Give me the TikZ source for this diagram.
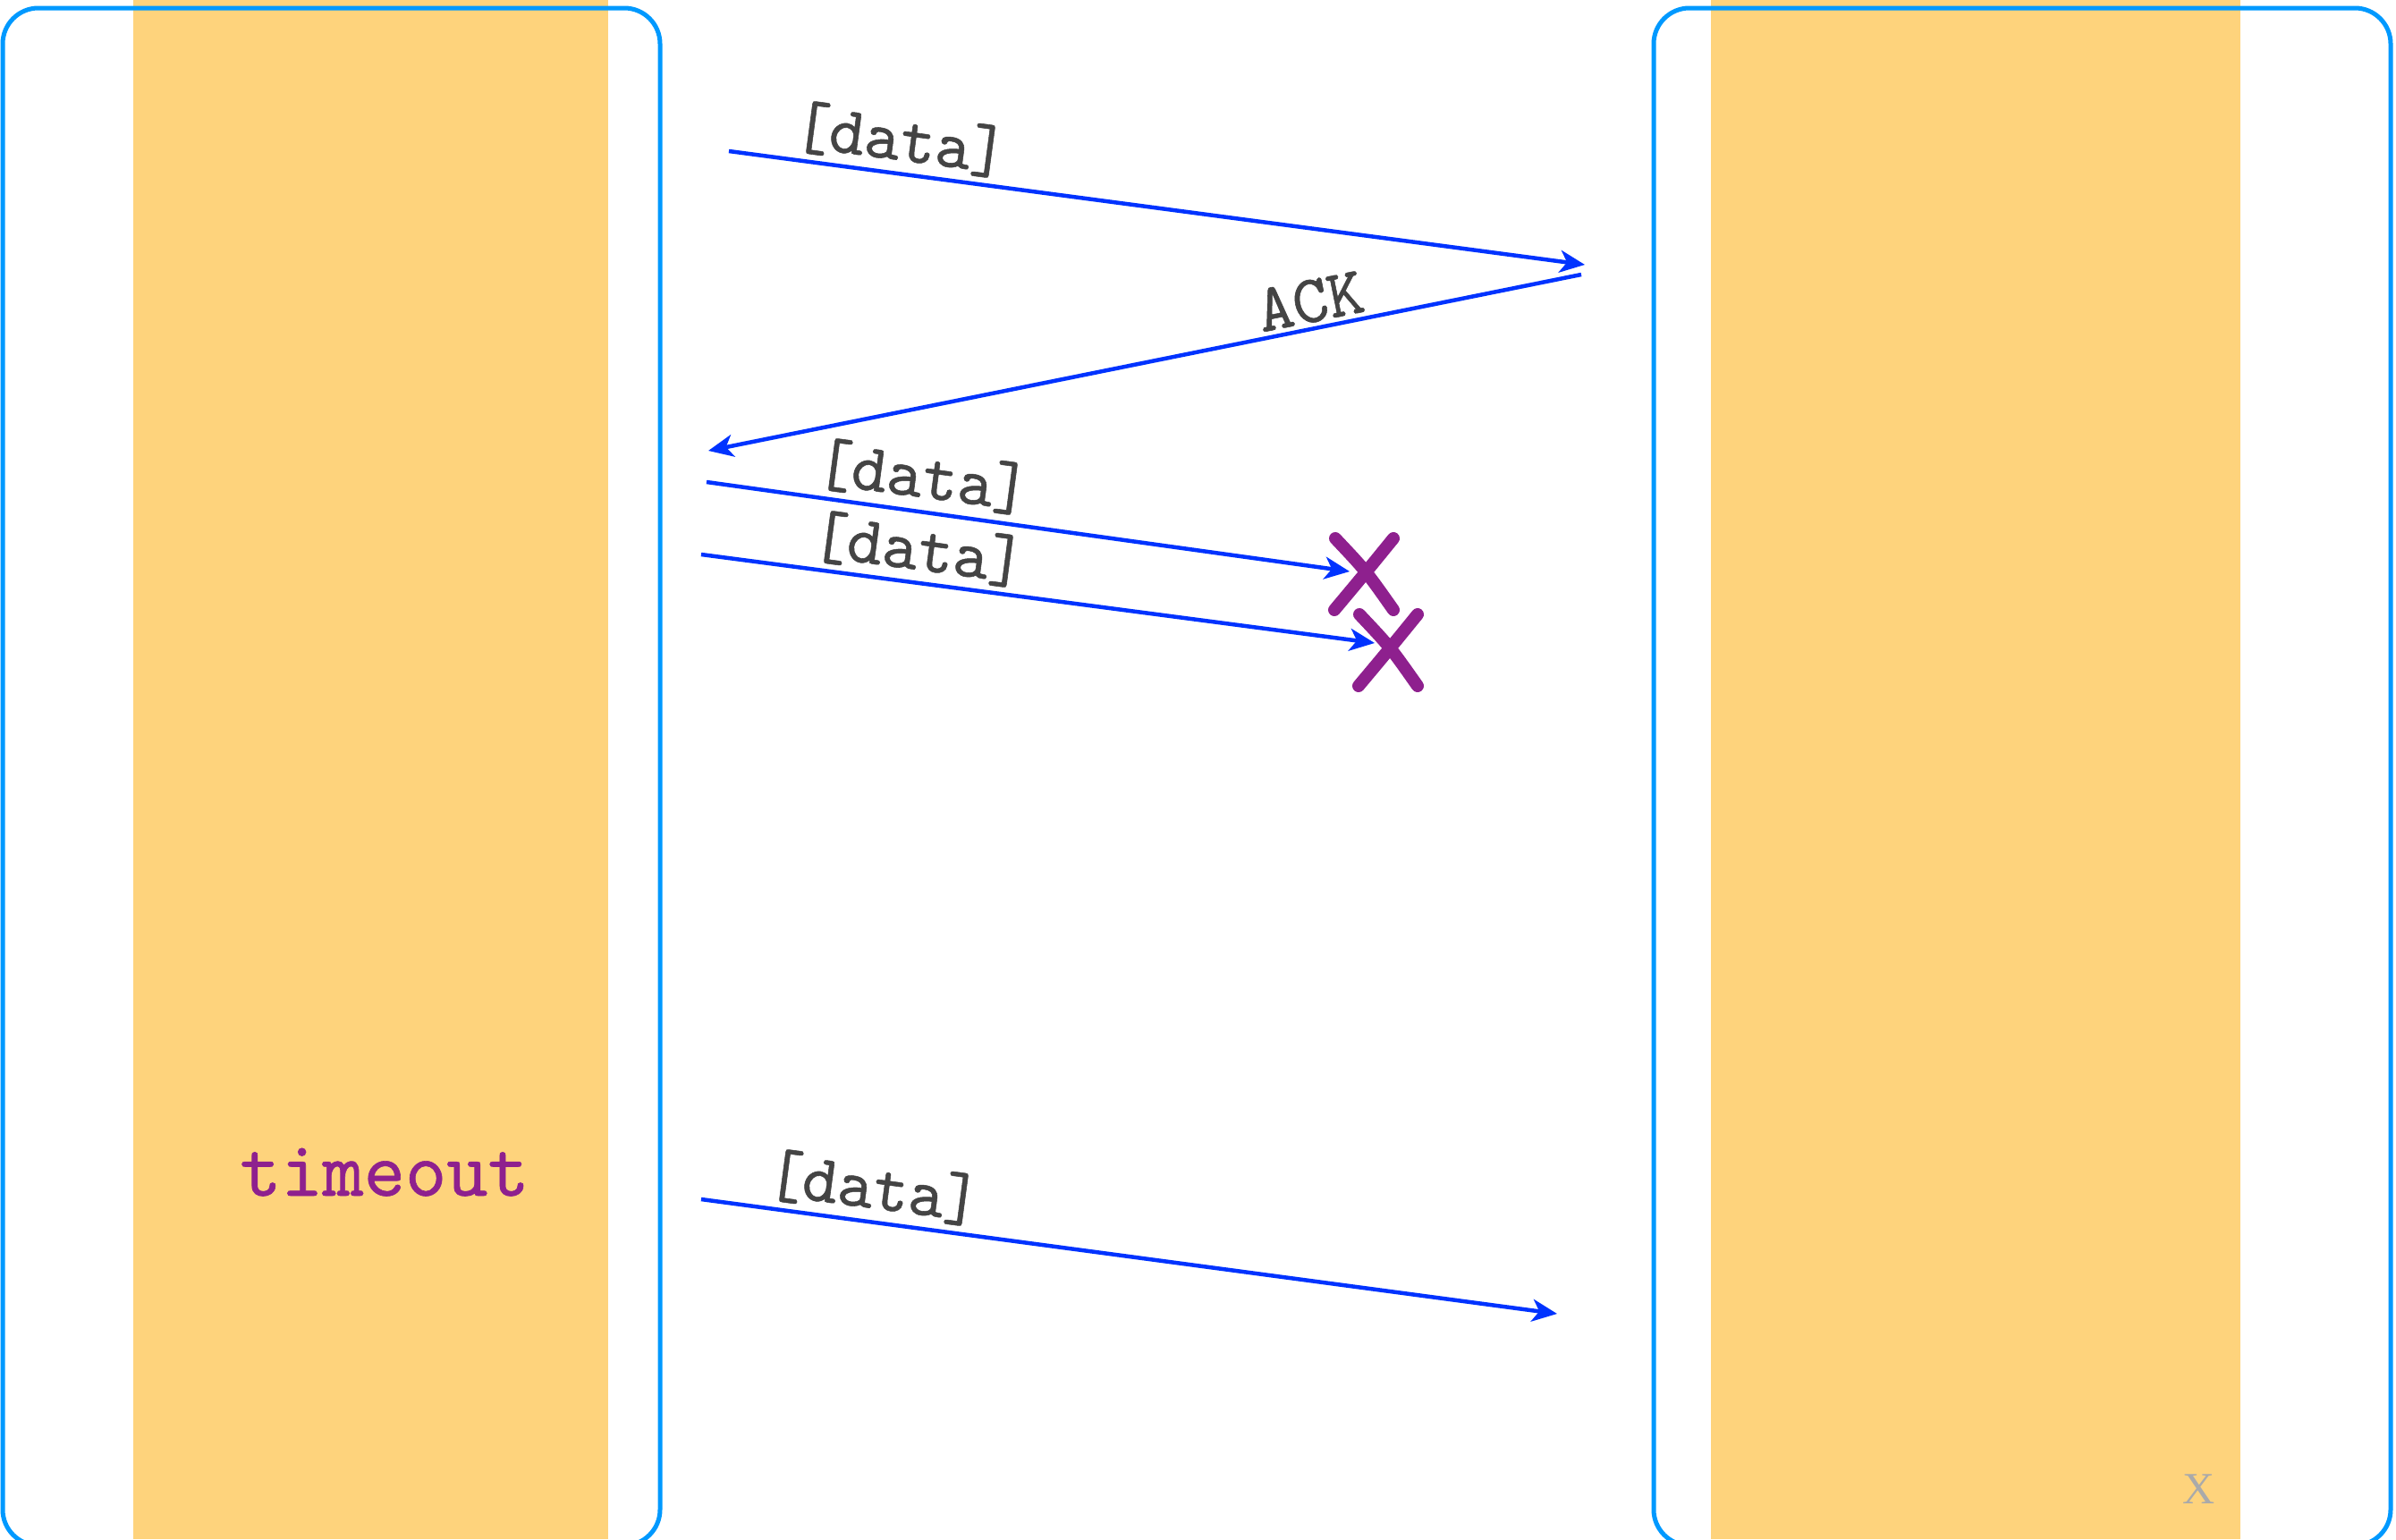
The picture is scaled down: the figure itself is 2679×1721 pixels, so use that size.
\documentclass[tikz,border=0pt]{standalone}
\usepackage{fontspec}
\usetikzlibrary{arrows.meta}

\newfontfamily\labelfont[FakeBold=0.7]{lmmono10-regular.otf}
\newfontfamily\cornerfont{Liberation Serif}

\definecolor{lanefill}{RGB}{254,211,124}
\definecolor{frameblue}{RGB}{0,153,255}
\definecolor{msgblue}{RGB}{0,51,255}
\definecolor{lossmark}{RGB}{142,32,142}
\definecolor{labelgray}{RGB}{68,68,68}
\definecolor{cornermark}{RGB}{170,170,170}

\begin{document}
\begin{tikzpicture}[x=1pt,y=-1pt,
  lane/.style={fill=lanefill, draw=none},
  frame/.style={draw=frameblue, line width=5pt, rounded corners=40pt},
  msg/.style={draw=msgblue, line width=4.5pt,
    -{Stealth[length=28pt,width=25pt,inset=8pt]}},
  msglabel/.style={text=labelgray, inner sep=0pt,
    font=\labelfont\fontsize{76}{84}\selectfont},
  lost/.style={draw=lossmark, line width=14pt, line cap=round},
  lossx/.pic={
    \draw[lost] (-32,-40) .. controls (2,-4) .. (33,40);
    \draw[lost] (33,-40) .. controls (-2,3) .. (-33,40);
  },
]
\useasboundingbox (0,0) rectangle (2679,1721);

% the two lanes and their frames
\fill[lane] (149,0) rectangle (680,1721);
\fill[lane] (1913,0) rectangle (2505,1721);
\draw[frame] (3,9) rectangle (738,1728);
\draw[frame] (1849,9) rectangle (2673,1728);

% message end points
\coordinate (s1) at (815,169);  \coordinate (r1) at (1772,296);
\coordinate (r2) at (1768,307); \coordinate (s2) at (792,504);
\coordinate (s3) at (790,539);  \coordinate (x3) at (1509,639);
\coordinate (s4) at (784,620);  \coordinate (x4) at (1537,719);
\coordinate (s5) at (784,1341); \coordinate (r5) at (1741,1469);

% messages
\draw[msg] (s1) -- (r1);
\draw[msg] (r2) -- (s2);
\draw[msg] (s3) -- (x3);
\draw[msg] (s4) -- (x4);
\draw[msg] (s5) -- (r5);

% message labels
\node[msglabel, rotate=-7.6] (l1) at (1007,156) {[data]};
\node[msglabel, rotate=11.4] (l2) at (1465,337) {ACK};
\node[msglabel, rotate=-7.6] (l3) at (1032,533) {[data]};
\node[msglabel, rotate=-7.6] (l4) at (1027,614) {[data]};
\node[msglabel, rotate=-7.6] (l5) at (977,1328) {[data]};

% lost packets
\pic at (1525,642) {lossx};
\pic at (1552,727) {lossx};

% timeout on the sender side
\node[text=lossmark, inner sep=0pt, anchor=base,
      font=\labelfont\fontsize{88}{96}\selectfont] (timeout) at (430,1337) {timeout};

% corner mark
\node[text=cornermark, inner sep=0pt,
      font=\cornerfont\fontsize{50}{54}\selectfont] (corner) at (2459,1665) {X};
\end{tikzpicture}
\end{document}
